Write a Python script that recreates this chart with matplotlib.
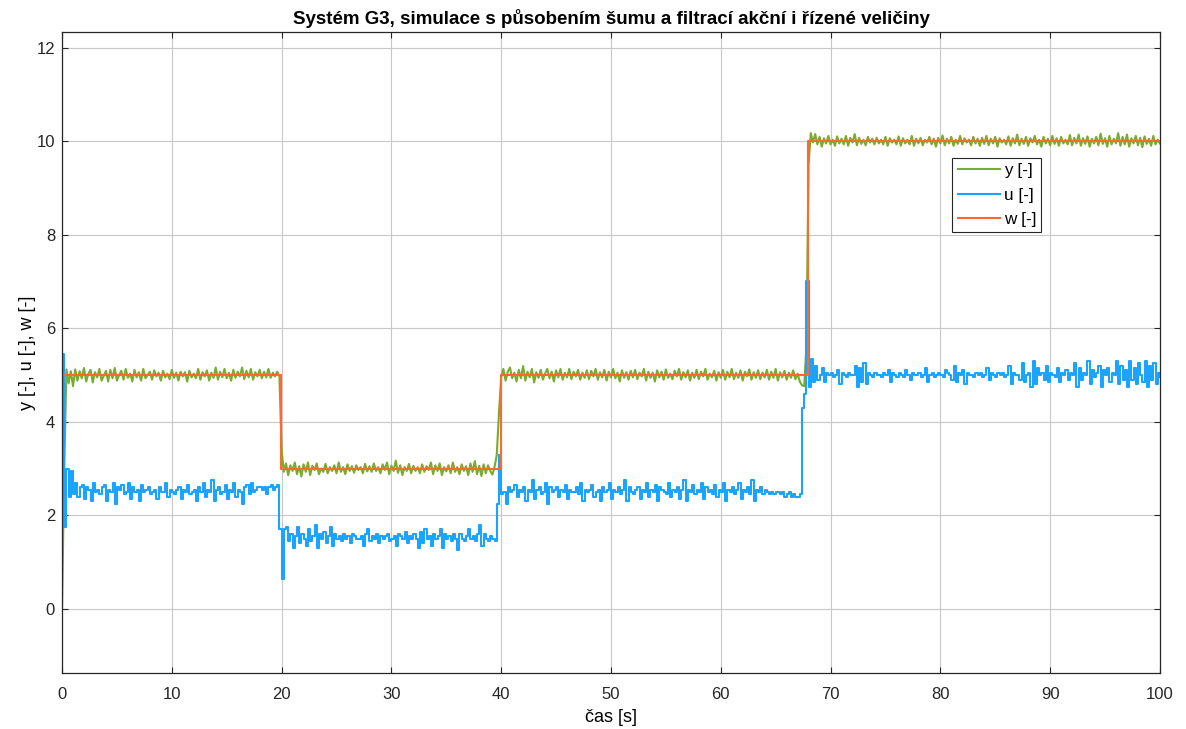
import numpy as np
import matplotlib
matplotlib.use("Agg")
import matplotlib.pyplot as plt

plt.rcParams['font.family'] = ['Liberation Sans', 'DejaVu Sans']

# --- data (sample step 0.2 s) ---
dt = 0.2
seg_starts = [0.0, 20.0, 40.0, 68.0]

u1 = [5.45, 1.75, 3.0, 2.4, 2.95, 2.45, 2.7, 2.4, 2.6, 2.65, 2.35, 2.6, 2.55, 2.3, 2.7, 2.5, 2.55, 2.45, 2.6, 2.65,
      2.3, 2.55, 2.5, 2.7, 2.25, 2.6, 2.55, 2.65, 2.45, 2.5, 2.7, 2.35, 2.6, 2.5, 2.55, 2.3, 2.65, 2.5, 2.55, 2.6,
      2.45, 2.5, 2.55, 2.35, 2.6, 2.5, 2.5, 2.7, 2.4, 2.55, 2.5, 2.45, 2.55, 2.6, 2.35, 2.55, 2.5, 2.65, 2.45, 2.5,
      2.55, 2.3, 2.6, 2.5, 2.7, 2.4, 2.55, 2.5, 2.75, 2.3, 2.55, 2.6, 2.45, 2.5, 2.65, 2.35, 2.55, 2.5, 2.7, 2.4,
      2.55, 2.5, 2.25, 2.6, 2.65, 2.45, 2.7, 2.5, 2.55, 2.6, 2.6, 2.55, 2.6, 2.45, 2.6, 2.65, 2.55, 2.6, 2.65, 1.7]
u2 = [0.65, 1.7, 1.75, 1.45, 1.6, 1.3, 1.55, 1.75, 1.4, 1.6, 1.5, 1.35, 1.7, 1.45, 1.55, 1.8, 1.3, 1.6, 1.5, 1.65,
      1.4, 1.55, 1.75, 1.35, 1.6, 1.5, 1.55, 1.45, 1.6, 1.5, 1.55, 1.4, 1.6, 1.55, 1.5, 1.5, 1.55, 1.35, 1.6, 1.7,
      1.45, 1.55, 1.5, 1.6, 1.4, 1.55, 1.5, 1.55, 1.6, 1.45, 1.5, 1.55, 1.35, 1.6, 1.55, 1.5, 1.65, 1.4, 1.55, 1.5,
      1.6, 1.5, 1.3, 1.65, 1.4, 1.7, 1.5, 1.55, 1.35, 1.6, 1.5, 1.55, 1.7, 1.3, 1.6, 1.5, 1.55, 1.45, 1.6, 1.5,
      1.25, 1.6, 1.5, 1.45, 1.55, 1.7, 1.5, 1.55, 1.45, 1.6, 1.8, 1.35, 1.6, 1.5, 1.45, 1.55, 1.5, 1.45, 2.25, 3.3]
u3 = [2.45, 2.5, 2.25, 2.6, 2.5, 2.55, 2.65, 2.4, 2.55, 2.5, 2.6, 2.3, 2.55, 2.5, 2.75, 2.35, 2.55, 2.6, 2.45, 2.5,
      2.7, 2.25, 2.6, 2.5, 2.55, 2.6, 2.4, 2.55, 2.5, 2.65, 2.35, 2.55, 2.5, 2.5, 2.6, 2.45, 2.7, 2.3, 2.55, 2.5,
      2.55, 2.65, 2.4, 2.5, 2.55, 2.3, 2.6, 2.5, 2.55, 2.7, 2.35, 2.55, 2.5, 2.6, 2.45, 2.55, 2.75, 2.3, 2.6, 2.5,
      2.45, 2.55, 2.6, 2.35, 2.55, 2.5, 2.7, 2.4, 2.55, 2.5, 2.65, 2.3, 2.6, 2.55, 2.5, 2.45, 2.7, 2.4, 2.55, 2.5,
      2.6, 2.35, 2.55, 2.75, 2.3, 2.55, 2.5, 2.65, 2.45, 2.55, 2.5, 2.7, 2.35, 2.6, 2.5, 2.55, 2.45, 2.65, 2.4, 2.55,
      2.5, 2.7, 2.3, 2.55, 2.5, 2.6, 2.45, 2.55, 2.7, 2.35, 2.55, 2.5, 2.6, 2.45, 2.75, 2.3, 2.55, 2.5, 2.6, 2.45,
      2.55, 2.5, 2.45, 2.5, 2.45, 2.5, 2.5, 2.45, 2.5, 2.4, 2.45, 2.5, 2.4, 2.45, 2.4, 2.4, 2.45, 4.3, 4.6, 7.0]
u4 = [4.75, 5.35, 4.85, 5.2, 4.9, 5.0, 5.15, 4.85, 5.05, 5.0, 5.05, 4.95, 5.0, 5.1, 4.8, 5.05, 5.0, 4.95, 5.05, 5.0,
      5.0, 5.2, 4.75, 5.15, 4.85, 5.25, 4.8, 5.05, 5.0, 4.95, 5.05, 5.0, 5.0, 4.95, 5.05, 5.0, 5.1, 4.85, 5.05, 5.0,
      4.95, 5.05, 5.0, 4.95, 5.1, 5.0, 4.9, 5.05, 5.0, 5.0, 5.05, 4.95, 5.0, 5.15, 4.85, 5.0, 5.05, 4.95, 5.0, 5.05,
      5.0, 4.95, 5.1, 5.05, 5.0, 4.9, 5.2, 4.85, 5.05, 5.0, 5.1, 4.8, 5.05, 5.0, 5.0, 4.95, 5.05, 5.0, 5.05, 4.95,
      5.0, 5.15, 4.9, 5.05, 5.0, 4.95, 5.05, 5.0, 5.05, 4.95, 5.0, 5.2, 4.8, 5.05, 5.0, 5.0, 4.9, 5.25, 4.85, 5.0,
      5.05, 4.75, 5.3, 4.8, 5.15, 5.0, 5.05, 4.9, 5.2, 4.85, 5.05, 5.0, 4.95, 5.15, 4.85, 5.05, 5.0, 5.1, 4.9, 5.05,
      5.0, 5.25, 4.75, 5.15, 4.9, 5.05, 5.0, 5.3, 4.8, 5.1, 4.95, 5.05, 5.2, 4.75, 5.1, 5.0, 5.15, 4.85, 5.05, 5.0,
      5.3, 4.8, 5.2, 4.9, 5.1, 4.75, 5.3, 4.9, 5.15, 4.8, 5.25, 5.0, 4.85, 5.3, 4.75, 5.2, 4.9, 5.25, 4.8, 5.05,
      4.95]

y1 = [0.0, 3.0, 5.12, 4.82, 5.08, 4.76, 5.12, 4.88, 5.08, 4.93, 5.15, 4.86, 5.03, 5.11, 4.84, 5.06, 4.95, 5.13, 4.88, 4.98,
      5.09, 4.86, 5.11, 4.93, 5.15, 4.88, 5.0, 5.09, 4.9, 5.13, 4.94, 5.03, 4.86, 5.11, 4.95, 5.06, 4.88, 5.13, 4.93, 5.0,
      5.07, 4.9, 5.1, 4.97, 5.05, 4.88, 5.09, 4.95, 5.03, 4.91, 5.11, 4.94, 5.05, 4.88, 5.07, 4.97, 5.06, 4.86, 5.09, 4.95,
      5.03, 4.93, 5.13, 4.9, 5.06, 4.97, 5.1, 4.88, 5.05, 4.94, 5.16, 4.9, 5.07, 4.95, 5.13, 4.93, 5.05, 4.88, 5.11, 4.94,
      5.07, 4.97, 5.16, 4.91, 5.09, 4.95, 5.13, 4.9, 5.06, 4.97, 5.11, 4.93, 5.07, 4.95, 5.13, 4.94, 5.05, 4.97, 5.07, 4.98]
y2 = [3.4, 2.93, 3.11, 2.86, 3.07, 2.95, 3.13, 2.88, 3.05, 2.83, 3.09, 2.93, 3.13, 2.86, 3.06, 2.97, 3.11, 2.88, 3.0, 2.93,
      3.1, 2.9, 3.03, 2.95, 3.07, 2.9, 3.13, 2.93, 3.03, 2.88, 3.09, 2.95, 3.05, 2.91, 3.07, 2.97, 3.03, 2.9, 3.1, 2.94,
      3.05, 2.93, 3.11, 2.95, 3.03, 2.9, 3.09, 2.97, 3.13, 2.88, 3.06, 2.95, 3.17, 2.91, 3.07, 2.86, 3.03, 2.95, 3.1, 2.9,
      3.06, 2.95, 3.03, 2.9, 3.09, 2.93, 3.05, 2.97, 3.13, 2.88, 3.07, 2.95, 3.11, 2.86, 3.03, 2.94, 3.07, 2.9, 3.13, 2.93,
      3.03, 2.88, 3.09, 2.95, 3.05, 2.86, 3.11, 2.93, 3.16, 2.88, 3.06, 2.84, 3.09, 2.9, 3.07, 2.95, 2.87, 3.04, 3.3, 4.2]
y3 = [4.95, 5.13, 4.88, 5.07, 5.16, 4.93, 5.05, 4.86, 5.11, 4.93, 5.19, 4.88, 5.07, 4.95, 5.13, 4.84, 5.06, 4.94, 5.11, 4.9,
      5.03, 5.13, 4.93, 5.07, 4.86, 5.1, 4.95, 5.13, 4.9, 5.05, 4.95, 5.13, 4.91, 5.07, 4.97, 5.11, 4.9, 5.05, 4.94, 5.1,
      4.91, 5.09, 4.97, 5.13, 4.9, 5.06, 4.95, 5.11, 4.88, 5.07, 4.95, 5.13, 4.93, 5.05, 4.86, 5.1, 4.94, 5.06, 4.9, 5.09,
      4.95, 5.11, 4.91, 5.05, 4.97, 5.13, 4.88, 5.07, 4.94, 5.05, 4.86, 5.1, 4.95, 5.07, 4.9, 5.12, 4.94, 5.03, 4.91, 5.09,
      4.97, 5.13, 4.9, 5.06, 4.95, 5.1, 4.88, 5.05, 4.94, 5.11, 4.91, 5.07, 4.97, 5.13, 4.9, 5.03, 4.95, 5.09, 4.88, 5.06,
      4.94, 5.11, 4.9, 5.07, 4.95, 5.13, 4.91, 5.05, 4.94, 5.1, 4.88, 5.07, 4.97, 5.12, 4.9, 5.06, 4.94, 5.1, 4.91, 5.05,
      4.95, 5.11, 4.9, 5.07, 4.94, 5.13, 4.88, 5.06, 4.95, 5.09, 4.9, 5.05, 4.94, 5.1, 4.91, 5.03, 4.86, 4.78, 4.76, 5.6]
y4 = [9.5, 10.17, 9.97, 10.15, 9.93, 10.09, 9.88, 10.06, 9.95, 10.11, 9.93, 10.03, 9.9, 10.1, 9.95, 10.05, 9.93, 10.11, 9.9, 10.07,
      9.97, 10.15, 9.91, 10.07, 9.94, 10.03, 9.91, 10.09, 9.97, 10.05, 9.93, 10.07, 9.95, 10.03, 9.93, 10.09, 9.9, 10.06, 9.97, 10.03,
      9.93, 10.1, 9.9, 10.06, 9.95, 10.03, 9.93, 10.11, 9.9, 10.05, 9.95, 10.07, 9.91, 10.03, 9.97, 10.09, 9.93, 10.05, 9.88, 10.07,
      9.95, 10.12, 9.91, 10.05, 9.95, 10.09, 9.9, 10.03, 9.94, 10.11, 9.93, 10.06, 9.97, 10.03, 9.91, 10.09, 9.95, 10.05, 9.9, 10.07,
      9.94, 10.11, 9.91, 10.05, 9.95, 10.09, 9.88, 10.06, 9.97, 10.03, 9.93, 10.1, 9.9, 10.06, 9.95, 10.14, 9.91, 10.05, 9.94, 10.09,
      9.9, 10.06, 9.97, 10.11, 9.93, 10.03, 9.88, 10.09, 9.95, 10.05, 9.91, 10.11, 9.94, 10.06, 9.9, 10.09, 9.95, 10.03, 9.93, 10.13,
      9.91, 10.07, 9.95, 10.14, 9.9, 10.06, 9.94, 10.1, 9.88, 10.05, 9.95, 10.09, 9.91, 10.16, 9.94, 10.06, 9.88, 10.11, 9.93, 10.05,
      9.95, 10.17, 9.9, 10.09, 9.93, 10.14, 9.88, 10.06, 9.95, 10.11, 9.91, 10.07, 9.87, 10.1, 9.94, 10.05, 9.9, 10.11, 9.93, 10.03,
      9.95]

w_times = [0, 19.95, 39.95, 67.95, 100]
w_vals = [5, 3, 5, 10, 10]

x_ticks = [0, 10, 20, 30, 40, 50, 60, 70, 80, 90, 100]
y_ticks = [0, 2, 4, 6, 8, 10, 12]

c_y = '#77AC30'
c_u = '#1AA3FF'
c_w = '#FF6929'


def seg_time(start, vals):
    return start + dt * np.arange(len(vals))


t_u = np.concatenate([seg_time(s, v) for s, v in zip(seg_starts, [u1, u2, u3, u4])])
u = np.concatenate([u1, u2, u3, u4])
t_y = np.concatenate([seg_time(s, v) for s, v in zip(seg_starts, [y1, y2, y3, y4])])
y = np.concatenate([y1, y2, y3, y4])

fig = plt.figure(figsize=(11.86, 7.29), dpi=100)
ax = fig.add_axes([0.0523, 0.0768, 0.9257, 0.8792])

ax.plot(t_y, y, color=c_y, lw=1.5, label='y [-]')
ax.plot(t_u, u, color=c_u, lw=1.5, drawstyle='steps-post', label='u [-]')
ax.plot(w_times, w_vals, color=c_w, lw=1.5, drawstyle='steps-post', label='w [-]')

ax.set_xlim(0, 100)
ax.set_ylim(-1.37, 12.33)
ax.set_xticks(x_ticks)
ax.set_yticks(y_ticks)
ax.grid(True, color='#c8c8c8', lw=0.8)
ax.set_axisbelow(True)
ax.tick_params(direction='in', top=True, right=True, labelsize=12, length=4,
               colors='#262626')
ax.tick_params(axis='x', pad=10)
ax.tick_params(axis='y', pad=5)
for sp in ax.spines.values():
    sp.set_color('#262626')
    sp.set_linewidth(0.9)

ax.set_title('Systém G3, simulace s působením šumu a filtrací akční i řízené veličiny',
             fontsize=13.5, fontweight='bold', pad=6)
ax.set_xlabel('čas [s]', fontsize=13, labelpad=5)
ax.set_ylabel('y [-], u [-], w [-]', fontsize=13, labelpad=0)

leg = ax.legend(loc='upper left', bbox_to_anchor=(0.811, 0.803), fontsize=12.3,
                frameon=True, fancybox=False, edgecolor='#262626', framealpha=1,
                handlelength=2.5, borderaxespad=0, labelspacing=0.55,
                handletextpad=0.2, borderpad=0.3)
leg.get_frame().set_linewidth(0.8)

fig.savefig('out.png', dpi=100)
